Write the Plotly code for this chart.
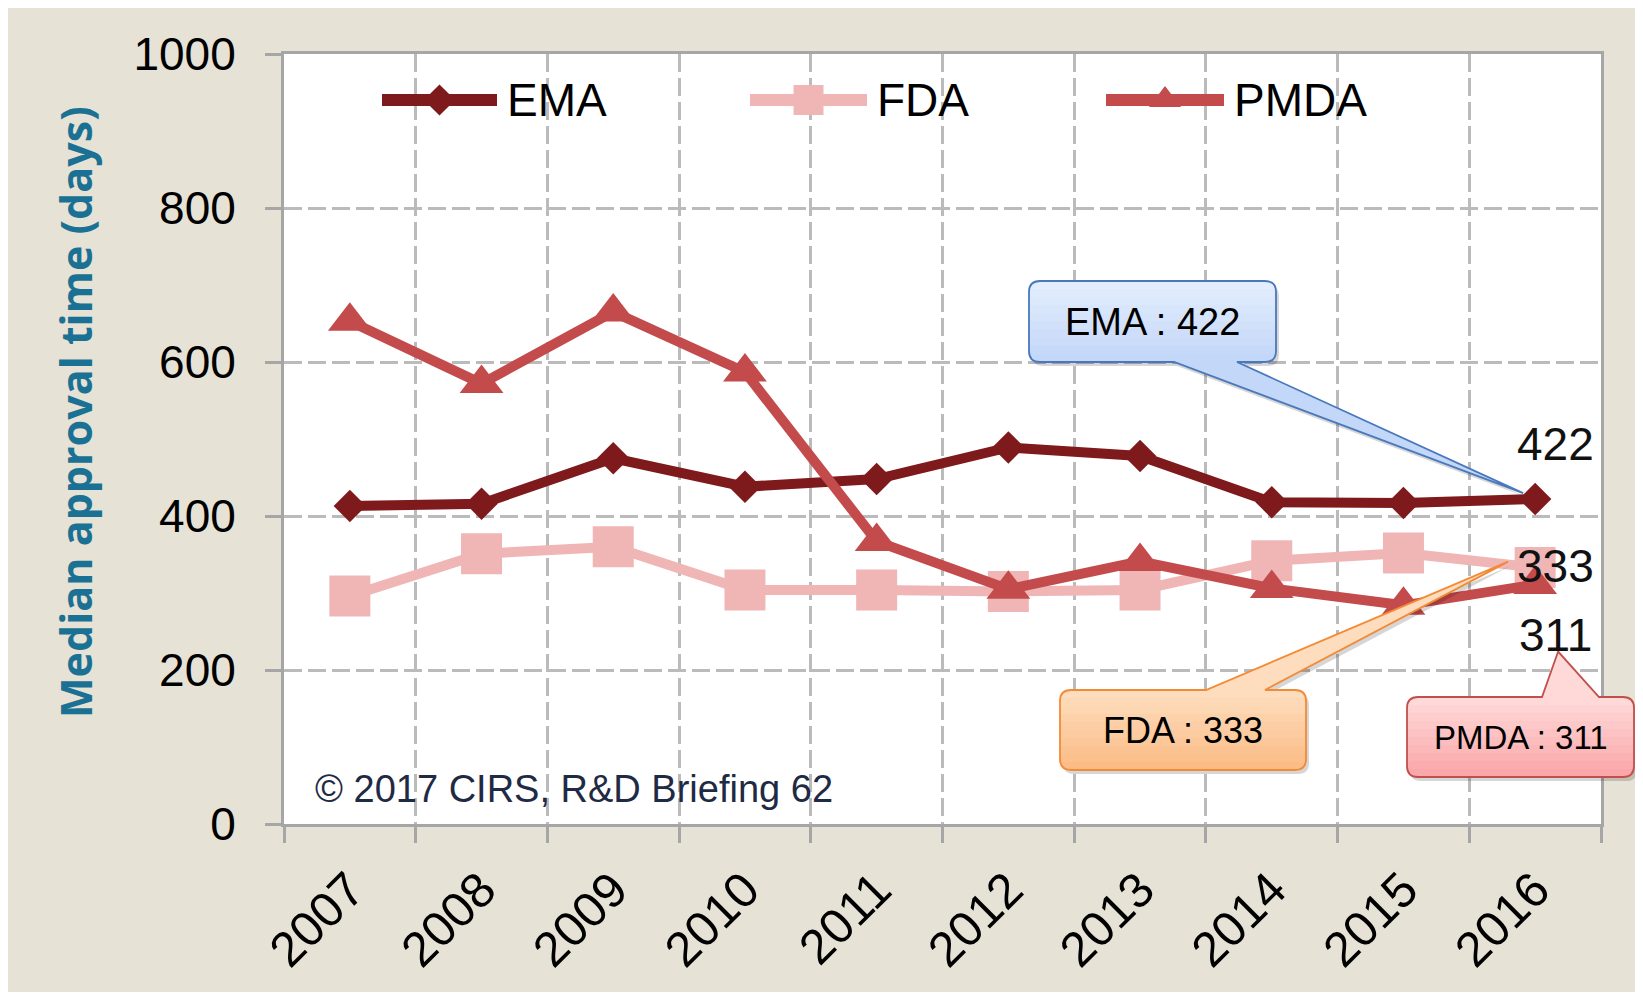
import plotly.graph_objects as go

# ---------------- data ----------------
years = ["2007", "2008", "2009", "2010", "2011", "2012", "2013", "2014", "2015", "2016"]
ema = [413, 416, 475, 438, 448, 489, 478, 418, 417, 422]
fda = [296, 351, 360, 304, 304, 302, 304, 342, 352, 333]
pmda = [653, 572, 665, 587, 367, 305, 341, 306, 284, 311]
series_names = ["EMA", "FDA", "PMDA"]
y_ticks = [0, 200, 400, 600, 800, 1000]
y_title = "Median approval time (days)"
credit = "© 2017 CIRS, R&D Briefing 62"

# ---------------- style ----------------
FONT = "Liberation Sans, Arial, sans-serif"
EMA_C = "#7E1A1C"
FDA_C = "#F0B6B6"
PMDA_C = "#C44B4B"
AXC = "#A6A6A6"
GRIDC = "#BBBBBB"
BEIGE = "#E6E2D5"

# page offset of the figure (default body margin of the html page)
OFF = 8
W, H = 1627, 984
# plot area in page pixels
PX0, PX1, PY0, PY1 = 284, 1601, 54, 824
L, T = PX0 - OFF, PY0 - OFF
PW, PH = PX1 - PX0, PY1 - PY0
R, B = W - L - PW, H - T - PH
YMAX = y_ticks[-1]


def fx(x):
    return (x - PX0) / PW


def fy(y):
    return (PY1 - y) / PH


def cat_px(i):
    return PX0 + (i + 0.5) * PW / len(years)


def val_px(v):
    return PY1 - v / YMAX * PH


def pt(x, y):
    return f"{fx(x):.5f},{fy(y):.5f}"


fig = go.Figure()

for name, vals, col, sym, size in [
    ("EMA", ema, EMA_C, "diamond", 25),
    ("FDA", fda, FDA_C, "square", 41),
    ("PMDA", pmda, PMDA_C, "triangle-up", 38),
]:
    fig.add_trace(go.Scatter(
        x=years, y=vals, name=name, mode="lines+markers",
        line=dict(color=col, width=10),
        marker=dict(symbol=sym, size=size, color=col, line=dict(width=0)),
        showlegend=False, cliponaxis=False,
    ))

# ---------------- custom legend (long line samples) ----------------
legend_items = [
    ("EMA", EMA_C, "diamond", 24, 382, 497, 505),
    ("FDA", FDA_C, "square", 30, 750, 867, 875),
    ("PMDA", PMDA_C, "triangle-up", 28, 1106, 1224, 1232),
]
LEG_Y = 100
annotations = []
for name, col, sym, msize, xa, xb, xt in legend_items:
    fig.add_trace(go.Scatter(
        x=[fx(xa), fx(xb)], y=[fy(LEG_Y), fy(LEG_Y)], mode="lines",
        line=dict(color=col, width=12), xaxis="x2", yaxis="y2",
        showlegend=False, hoverinfo="skip",
    ))
    fig.add_trace(go.Scatter(
        x=[fx((xa + xb) / 2)], y=[fy(LEG_Y)], mode="markers",
        marker=dict(symbol=sym, size=msize, color=col, line=dict(width=0)),
        xaxis="x2", yaxis="y2", showlegend=False, hoverinfo="skip",
    ))
    annotations.append(dict(
        x=fx(xt), y=fy(LEG_Y), xref="paper", yref="paper", text=name,
        showarrow=False, xanchor="left", yanchor="middle",
        font=dict(family=FONT, size=46, color="black"),
    ))

# ---------------- callouts ----------------
shapes = []


def mix(c1, c2, t):
    a = [int(c1[i:i + 2], 16) for i in (1, 3, 5)]
    b = [int(c2[i:i + 2], 16) for i in (1, 3, 5)]
    return "rgb(%d,%d,%d)" % tuple(round(a[k] + (b[k] - a[k]) * t) for k in range(3))


def outline(x0, y0, x1, y1, r, side, ba, bb, tip, dx=0, dy=0):
    def p(x, y):
        return pt(x + dx, y + dy)
    s = f"M {p(x0 + r, y0)}"
    if side == "top":
        s += f" L {p(ba, y0)} L {p(*tip)} L {p(bb, y0)}"
    s += f" L {p(x1 - r, y0)} Q {p(x1, y0)} {p(x1, y0 + r)}"
    s += f" L {p(x1, y1 - r)} Q {p(x1, y1)} {p(x1 - r, y1)}"
    if side == "bottom":
        s += f" L {p(bb, y1)} L {p(*tip)} L {p(ba, y1)}"
    s += f" L {p(x0 + r, y1)} Q {p(x0, y1)} {p(x0, y1 - r)}"
    s += f" L {p(x0, y0 + r)} Q {p(x0, y0)} {p(x0 + r, y0)} Z"
    return s


def callout(x0, y0, x1, y1, side, ba, bb, tip, ctop, cbot, lcol, text, fsize):
    r = 11
    shapes.append(dict(type="path", xref="paper", yref="paper",
                       path=outline(x0, y0, x1, y1, r, side, ba, bb, tip, 3, 4),
                       fillcolor="rgba(0,0,0,0.16)", line=dict(width=0)))
    n = 10
    for k in range(n):
        yk = y0 + k * (y1 - y0) / n
        col = mix(ctop, cbot, k / (n - 1))
        if k == 0:
            s = (f"M {pt(x0 + r, yk)} L {pt(x1 - r, yk)} Q {pt(x1, yk)} {pt(x1, yk + r)}")
        else:
            s = f"M {pt(x0, yk)} L {pt(x1, yk)}"
        s += (f" L {pt(x1, y1 - r)} Q {pt(x1, y1)} {pt(x1 - r, y1)}"
              f" L {pt(x0 + r, y1)} Q {pt(x0, y1)} {pt(x0, y1 - r)}")
        if k == 0:
            s += f" L {pt(x0, yk + r)} Q {pt(x0, yk)} {pt(x0 + r, yk)} Z"
        else:
            s += " Z"
        shapes.append(dict(type="path", xref="paper", yref="paper", path=s,
                           fillcolor=col, line=dict(width=0)))
    ey = y0 if side == "top" else y1
    pcol = ctop if side == "top" else cbot
    shapes.append(dict(type="path", xref="paper", yref="paper",
                       path=f"M {pt(ba, ey)} L {pt(*tip)} L {pt(bb, ey)} Z",
                       fillcolor=pcol, line=dict(width=0)))
    shapes.append(dict(type="path", xref="paper", yref="paper",
                       path=outline(x0, y0, x1, y1, r, side, ba, bb, tip),
                       fillcolor="rgba(0,0,0,0)", line=dict(color=lcol, width=1.8)))
    annotations.append(dict(
        x=fx((x0 + x1) / 2), y=fy((y0 + y1) / 2), xref="paper", yref="paper",
        text=text, showarrow=False, xanchor="center", yanchor="middle",
        font=dict(family=FONT, size=fsize, color="black"),
    ))


last = len(years) - 1
callout(1029, 281, 1276, 362, "bottom", 1174, 1237,
        (cat_px(last) - 12, val_px(ema[-1]) - 6),
        "#E3EDFD", "#C3D7F8", "#4A78BD", f"{series_names[0]} : {ema[-1]}", 38)
callout(1060, 690, 1306, 770, "top", 1206, 1265,
        (cat_px(last) - 27, val_px(fda[-1]) - 6),
        "#FEDDBE", "#FBBC86", "#F38A36", f"{series_names[1]} : {fda[-1]}", 36)
callout(1407, 697, 1634, 777, "top", 1542, 1599,
        (cat_px(last) + 23, val_px(pmda[-1]) + 67),
        "#FFD8D8", "#FAA7A9", "#C0504D", f"{series_names[2]} : {pmda[-1]}", 33)

# ---------------- value labels at 2016 ----------------
for vals, yshift in [(ema, 55), (fda, 2), (pmda, -50)]:
    annotations.append(dict(
        x=last, y=vals[-1], xref="x", yref="y", text=str(vals[-1]),
        showarrow=False, xanchor="center", yanchor="middle",
        xshift=20, yshift=yshift,
        font=dict(family=FONT, size=46, color="#111111"),
    ))

# copyright
annotations.append(dict(
    x=fx(313), y=fy(789), xref="paper", yref="paper", text=credit,
    showarrow=False, xanchor="left", yanchor="middle",
    font=dict(family=FONT, size=38, color="#1F2A44"),
))
# y axis title
annotations.append(dict(
    x=fx(75), y=fy(412), xref="paper", yref="paper", text=f"<b>{y_title}</b>",
    showarrow=False, xanchor="center", yanchor="middle", textangle=-90,
    font=dict(family="Open Sans, sans-serif", size=43, color="#1B7193"),
))

fig.update_layout(
    width=W, height=H,
    margin=dict(l=L, r=R, t=T, b=B, pad=0),
    paper_bgcolor=BEIGE, plot_bgcolor="white",
    showlegend=False,
    xaxis=dict(
        type="category", range=[-0.5, len(years) - 0.5], tickson="boundaries",
        ticks="outside", ticklen=16, tickwidth=3, tickcolor=AXC,
        showline=True, linecolor=AXC, linewidth=3, mirror=True,
        showgrid=True, gridcolor=GRIDC, gridwidth=3, griddash="18px,6px",
        tickangle=-45, ticklabelstandoff=14,
        tickfont=dict(family=FONT, size=49, color="black"),
        zeroline=False, fixedrange=True,
    ),
    yaxis=dict(
        range=[0, YMAX], tickmode="array", tickvals=y_ticks,
        ticks="outside", ticklen=16, tickwidth=3, tickcolor=AXC,
        showline=True, linecolor=AXC, linewidth=3, mirror=True,
        showgrid=True, gridcolor=GRIDC, gridwidth=3, griddash="18px,6px",
        ticklabelstandoff=20,
        tickfont=dict(family=FONT, size=46, color="black"),
        zeroline=False, fixedrange=True,
    ),
    xaxis2=dict(overlaying="x", range=[0, 1], visible=False, fixedrange=True),
    yaxis2=dict(overlaying="y", range=[0, 1], visible=False, fixedrange=True),
    shapes=shapes,
    annotations=annotations,
)

fig.write_html("out.html")
